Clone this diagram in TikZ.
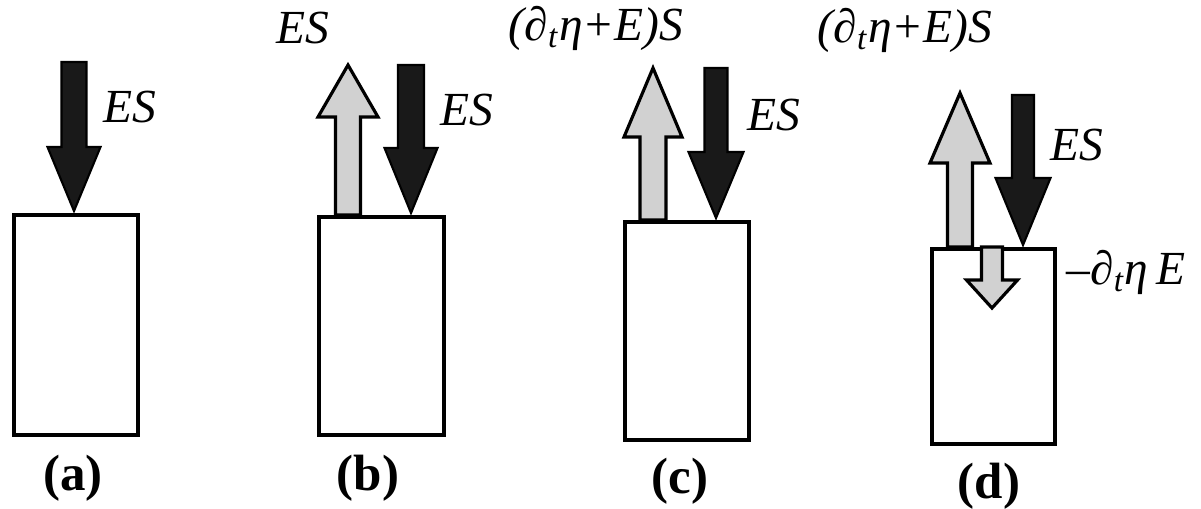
\documentclass[tikz,border=0pt]{standalone}
\usepackage{fontspec}
\setmainfont{Liberation Serif}[
  ItalicFont={Liberation Serif Italic},
  BoldFont={Liberation Serif Bold}]
\usepackage{tikz}
\usetikzlibrary{positioning}

% block arrow: style, x, tail y, head base y, tip y, half shaft, half head
\newcommand{\blockarrow}[7]{%
  \draw[#1] ({#2-#6},#3) -- ({#2-#6},#4) -- ({#2-#7},#4) -- (#2,#5)
    -- ({#2+#7},#4) -- ({#2+#6},#4) -- ({#2+#6},#3) -- cycle;}

\begin{document}
\begin{tikzpicture}[
  x=0.01cm, y=-0.01cm,
  cell/.style={draw, line width=1pt, fill=white, inner sep=0pt},
  darkarrow/.style={fill=black!90, draw=black, line width=0.6pt, line join=miter},
  lightarrow/.style={fill=black!18, draw=black, line width=0.9pt, line join=miter},
  flux/.style={font=\fontsize{13.5}{16}\selectfont\itshape, inner sep=0pt},
  caption/.style={font=\fontsize{14.5}{17}\selectfont\bfseries, inner sep=0pt}
]
  \useasboundingbox (0,0) rectangle (1201,508);

  % the four boxes
  \node (boxa) [cell, minimum width=1.24cm, minimum height=2.20cm, anchor=north west] at (12,213) {};
  \node (boxb) [cell, minimum width=1.25cm, minimum height=2.18cm, anchor=north west] at (317,215) {};
  \node (boxc) [cell, minimum width=1.24cm, minimum height=2.18cm, anchor=north west] at (623,220) {};
  \node (boxd) [cell, minimum width=1.23cm, minimum height=1.95cm, anchor=north west] at (930,247) {};

  % (a)
  \blockarrow{darkarrow}{74}{62}{147}{211}{12.5}{26.5}
  \node (esa) [flux] at (130,107) {ES};

  % (b)
  \blockarrow{lightarrow}{348}{215}{117}{65}{12.5}{30}
  \blockarrow{darkarrow}{411}{65}{148}{213}{13}{26.5}
  \node (esbup) [flux] at (303,28) {ES};
  \node (esb) [flux] at (467,110) {ES};

  % (c)
  \blockarrow{lightarrow}{653}{220}{137}{68}{13}{29}
  \blockarrow{darkarrow}{716}{68}{152}{218}{11.5}{27.5}
  \node (etac) [flux] at (596,28) {(∂\textsubscript{t}η+E)S};
  \node (esc) [flux] at (774,115) {ES};

  % (d)
  \blockarrow{lightarrow}{960}{247}{163}{93}{12.5}{30}
  \blockarrow{darkarrow}{1023}{95}{178}{245}{11}{27.5}
  \blockarrow{lightarrow}{992}{247}{280}{308}{10.5}{25.5}
  \node (etad) [flux] at (905,30) {(∂\textsubscript{t}η+E)S};
  \node (esd) [flux] at (1077,145) {ES};
  \node (lossd) [flux, anchor=west] at (1066,272) {–∂\textsubscript{t}η\,E};

  % captions
  \node (capa) [caption] at (73,478) {(a)};
  \node (capb) [caption] at (368,478) {(b)};
  \node (capc) [caption] at (680,481) {(c)};
  \node (capd) [caption] at (989,486) {(d)};
\end{tikzpicture}
\end{document}
